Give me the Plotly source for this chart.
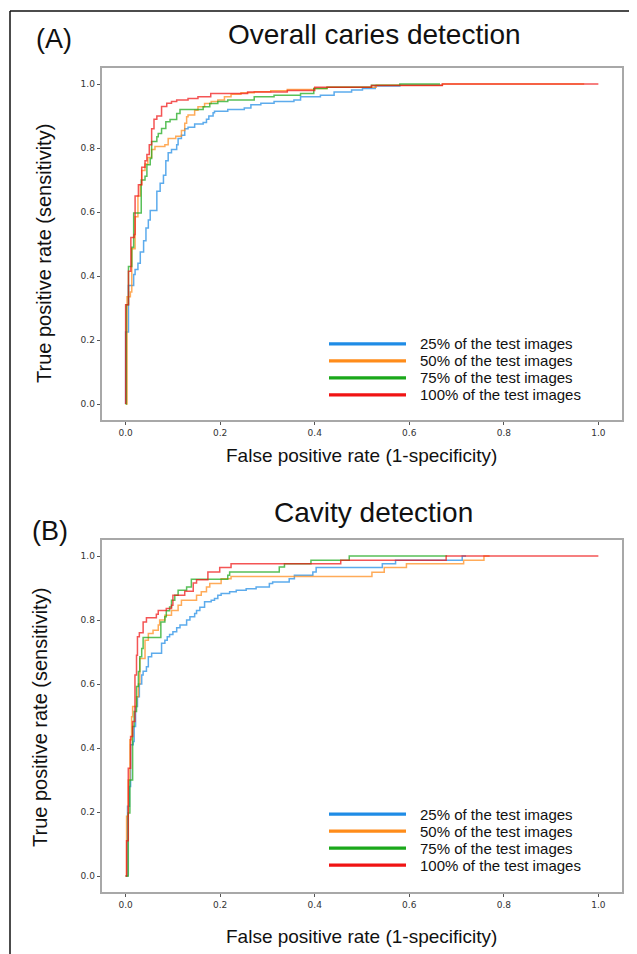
import plotly.graph_objects as go

# ---------------- data ----------------
series_names = ["25% of the test images", "50% of the test images",
                "75% of the test images", "100% of the test images"]
series_colors = ["#1f8ce6", "#ff8c1a", "#1aa81a", "#f01414"]

# Panel A: Overall caries detection
a25_fpr = [0, 0, 0.006, 0.017, 0.02, 0.026, 0.031, 0.038, 0.043, 0.048,
           0.052, 0.066, 0.073, 0.08, 0.085, 0.09, 0.097, 0.108, 0.111, 0.118,
           0.125, 0.132, 0.146, 0.164, 0.171, 0.176, 0.185, 0.188, 0.216, 0.251,
           0.265, 0.286, 0.314, 0.356, 0.37, 0.412, 0.441, 0.478, 0.501, 0.528,
           0.58, 0.67]
a25_tpr = [0, 0.225, 0.37, 0.405, 0.42, 0.44, 0.475, 0.51, 0.55, 0.575,
           0.605, 0.665, 0.69, 0.715, 0.76, 0.785, 0.795, 0.81, 0.83, 0.84,
           0.86, 0.865, 0.875, 0.88, 0.89, 0.90, 0.91, 0.915, 0.92, 0.925,
           0.935, 0.94, 0.945, 0.95, 0.96, 0.965, 0.975, 0.981, 0.986, 0.994,
           0.996, 0.996]

a50_fpr = [0, 0.003, 0.01, 0.013, 0.02, 0.026, 0.031, 0.034, 0.041, 0.047,
           0.055, 0.062, 0.083, 0.09, 0.106, 0.118, 0.125, 0.129, 0.132, 0.146,
           0.153, 0.167, 0.181, 0.195, 0.209, 0.223, 0.244, 0.272, 0.307, 0.342,
           0.398, 0.426, 0.53, 0.67, 0.97]
a50_tpr = [0, 0.335, 0.35, 0.485, 0.585, 0.65, 0.685, 0.73, 0.75, 0.77,
           0.795, 0.805, 0.81, 0.83, 0.837, 0.855, 0.877, 0.898, 0.903, 0.918,
           0.929, 0.939, 0.945, 0.95, 0.96, 0.968, 0.973, 0.976, 0.979, 0.983,
           0.986, 0.99, 0.996, 1.0, 1.0]

a75_fpr = [0, 0.0014, 0.006, 0.013, 0.017, 0.033, 0.041, 0.045, 0.052, 0.055,
           0.066, 0.069, 0.076, 0.085, 0.094, 0.108, 0.115, 0.164, 0.178, 0.195,
           0.216, 0.272, 0.314, 0.37, 0.398, 0.426, 0.52, 0.58, 0.665]
a75_tpr = [0, 0.31, 0.43, 0.49, 0.597, 0.70, 0.712, 0.748, 0.767, 0.82,
           0.835, 0.845, 0.861, 0.882, 0.889, 0.908, 0.92, 0.929, 0.939, 0.945,
           0.95, 0.96, 0.965, 0.97, 0.986, 0.99, 0.996, 1.0, 1.0]

a100_fpr = [0, 0, 0.006, 0.011, 0.018, 0.02, 0.027, 0.034, 0.041, 0.045,
            0.05, 0.055, 0.06, 0.066, 0.076, 0.087, 0.097, 0.108, 0.132, 0.153,
            0.18, 0.258, 0.342, 0.40, 0.52, 0.67, 1.0]
a100_tpr = [0, 0.31, 0.415, 0.52, 0.53, 0.65, 0.685, 0.74, 0.76, 0.78,
            0.81, 0.86, 0.89, 0.90, 0.93, 0.94, 0.945, 0.95, 0.955, 0.96,
            0.97, 0.975, 0.98, 0.99, 0.995, 1.0, 1.0]

# Panel B: Cavity detection
b25_fpr = [0, 0.004, 0.008, 0.0105, 0.016, 0.018, 0.021, 0.025, 0.029, 0.034,
           0.037, 0.044, 0.048, 0.055, 0.076, 0.083, 0.088, 0.093, 0.1, 0.108,
           0.115, 0.129, 0.136, 0.146, 0.15, 0.157, 0.167, 0.181, 0.188, 0.195,
           0.202, 0.22, 0.234, 0.255, 0.276, 0.304, 0.311, 0.346, 0.357, 0.396,
           0.403, 0.543, 0.571, 0.712, 0.72]
b25_tpr = [0, 0.218, 0.28, 0.41, 0.42, 0.467, 0.53, 0.56, 0.60, 0.628,
           0.64, 0.654, 0.685, 0.696, 0.727, 0.737, 0.748, 0.755, 0.763, 0.776,
           0.784, 0.80, 0.81, 0.82, 0.83, 0.84, 0.857, 0.862, 0.867, 0.877,
           0.883, 0.888, 0.893, 0.898, 0.903, 0.914, 0.919, 0.929, 0.94, 0.95,
           0.964, 0.976, 0.987, 1.0, 1.0]

b50_fpr = [0, 0.002, 0.0056, 0.009, 0.0126, 0.0148, 0.023, 0.027, 0.03, 0.041,
           0.048, 0.058, 0.069, 0.072, 0.083, 0.097, 0.111, 0.118, 0.15, 0.16,
           0.171, 0.178, 0.202, 0.223, 0.521, 0.547, 0.594, 0.715, 0.758, 0.77]
b50_tpr = [0, 0.187, 0.30, 0.426, 0.498, 0.53, 0.56, 0.60, 0.68, 0.737,
           0.758, 0.768, 0.784, 0.80, 0.815, 0.83, 0.846, 0.862, 0.877, 0.888,
           0.903, 0.914, 0.929, 0.936, 0.949, 0.964, 0.976, 0.987, 1.0, 1.0]

b75_fpr = [0, 0.0056, 0.009, 0.0148, 0.018, 0.023, 0.027, 0.03, 0.034, 0.037,
           0.0745, 0.083, 0.086, 0.093, 0.097, 0.104, 0.111, 0.129, 0.139, 0.216,
           0.22, 0.325, 0.336, 0.392, 0.473, 0.68]
b75_tpr = [0, 0.197, 0.30, 0.467, 0.514, 0.592, 0.639, 0.685, 0.711, 0.745,
           0.794, 0.81, 0.829, 0.841, 0.862, 0.877, 0.893, 0.903, 0.927, 0.94,
           0.95, 0.966, 0.976, 0.987, 1.0, 1.0]

b100_fpr = [0, 0.002, 0.0056, 0.0105, 0.0148, 0.0197, 0.023, 0.025, 0.029, 0.037,
            0.044, 0.065, 0.069, 0.086, 0.097, 0.1, 0.125, 0.143, 0.15, 0.174,
            0.199, 0.223, 0.455, 0.678, 1.0]
b100_tpr = [0, 0.11, 0.337, 0.436, 0.483, 0.628, 0.69, 0.748, 0.76, 0.794,
            0.807, 0.818, 0.83, 0.836, 0.846, 0.877, 0.89, 0.916, 0.926, 0.95,
            0.964, 0.976, 0.987, 1.0, 1.0]

panel_titles = ["Overall caries detection", "Cavity detection"]
panel_tags = ["(A)", "(B)"]
x_label = "False positive rate (1-specificity)"
y_label = "True positive rate (sensitivity)"
tick_vals = [0.0, 0.2, 0.4, 0.6, 0.8, 1.0]

panels = [
    [(a25_fpr, a25_tpr), (a50_fpr, a50_tpr), (a75_fpr, a75_tpr), (a100_fpr, a100_tpr)],
    [(b25_fpr, b25_tpr), (b50_fpr, b50_tpr), (b75_fpr, b75_tpr), (b100_fpr, b100_tpr)],
]

# ---------------- layout helpers ----------------
# The page body has an 8px margin, so the figure starts at (8, 8) in the window.
W, H = 637, 954
OFF = 8
def fx(p):
    return (p - OFF) / W
def fy(p):
    return 1 - (p - OFF) / H

SANS = "Liberation Sans, Arial, sans-serif"
TICKF = dict(family="DejaVu Sans", size=9, color="#333333")

fig = go.Figure()

axis_ids = [("x", "y"), ("x2", "y2")]
for pi, curves in enumerate(panels):
    xa, ya = axis_ids[pi]
    for si, (fpr, tpr) in enumerate(curves):
        fig.add_trace(go.Scatter(
            x=fpr, y=tpr, mode="lines", line_shape="hv",
            line=dict(color=series_colors[si], width=1.5),
            opacity=0.72, name=series_names[si], showlegend=False,
            xaxis=xa, yaxis=ya, hoverinfo="skip"))

common_axis = dict(range=[-0.05, 1.05], tickvals=tick_vals, tickformat=".1f",
                   showgrid=False, zeroline=False, showline=True, mirror=True,
                   linecolor="#a8a8a8", linewidth=1.5, ticks="outside",
                   ticklen=3.5, tickwidth=1, tickcolor="#555555", tickfont=TICKF)

xdom = [fx(102), fx(622)]
fig.update_layout(
    width=W, height=H, margin=dict(l=0, r=0, t=0, b=0),
    paper_bgcolor="white", plot_bgcolor="white", showlegend=False,
    xaxis=dict(domain=xdom, anchor="y", **common_axis),
    yaxis=dict(domain=[fy(420), fy(68)], anchor="x", **common_axis),
    xaxis2=dict(domain=xdom, anchor="y2", **common_axis),
    yaxis2=dict(domain=[fy(892), fy(540)], anchor="x2", **common_axis),
)

annotations = []
shapes = []

# outer frame lines (top and left)
shapes.append(dict(type="line", xref="paper", yref="paper", x0=fx(10), x1=1.0,
                   y0=fy(11), y1=fy(11), line=dict(color="#111111", width=1.5)))
shapes.append(dict(type="line", xref="paper", yref="paper", x0=fx(10), x1=fx(10),
                   y0=fy(11), y1=0.0, line=dict(color="#111111", width=1.5)))

LEG_GAP = 17
panel_geom = [
    dict(tag=(54, 39), title=(374, 34), ylab=(44, 254), xlab=(361, 455),
         leg_c=369.4),
    dict(tag=(50, 531), title=(373, 512), ylab=(40, 718), xlab=(361, 936),
         leg_c=839.6),
]

for pi, g in enumerate(panel_geom):
    annotations.append(dict(text=panel_tags[pi], xref="paper", yref="paper",
                            x=fx(g["tag"][0]), y=fy(g["tag"][1]), showarrow=False,
                            xanchor="center", yanchor="middle",
                            font=dict(family=SANS, size=27, color="#111111")))
    annotations.append(dict(text=panel_titles[pi], xref="paper", yref="paper",
                            x=fx(g["title"][0]), y=fy(g["title"][1]), showarrow=False,
                            xanchor="center", yanchor="middle",
                            font=dict(family=SANS, size=28, color="#111111")))
    annotations.append(dict(text=y_label, xref="paper", yref="paper",
                            x=fx(g["ylab"][0]), y=fy(g["ylab"][1]), showarrow=False,
                            xanchor="center", yanchor="middle", textangle=-90,
                            font=dict(family=SANS, size=20, color="#111111")))
    annotations.append(dict(text=x_label, xref="paper", yref="paper",
                            x=fx(g["xlab"][0]), y=fy(g["xlab"][1]), showarrow=False,
                            xanchor="center", yanchor="middle",
                            font=dict(family=SANS, size=19, color="#111111")))
    # legend (lower right, inside the axes)
    for si, name in enumerate(series_names):
        ypx = g["leg_c"] + (si - 1.5) * LEG_GAP
        yy = fy(ypx)
        shapes.append(dict(type="line", xref="paper", yref="paper",
                           x0=fx(329), x1=fx(406), y0=yy, y1=yy,
                           line=dict(color=series_colors[si], width=3.2)))
        annotations.append(dict(text=name, xref="paper", yref="paper",
                                x=fx(418), y=yy, showarrow=False,
                                xanchor="left", yanchor="middle",
                                font=dict(family=SANS, size=15, color="#111111")))

fig.update_layout(annotations=annotations, shapes=shapes)
fig.write_html("out.html")
